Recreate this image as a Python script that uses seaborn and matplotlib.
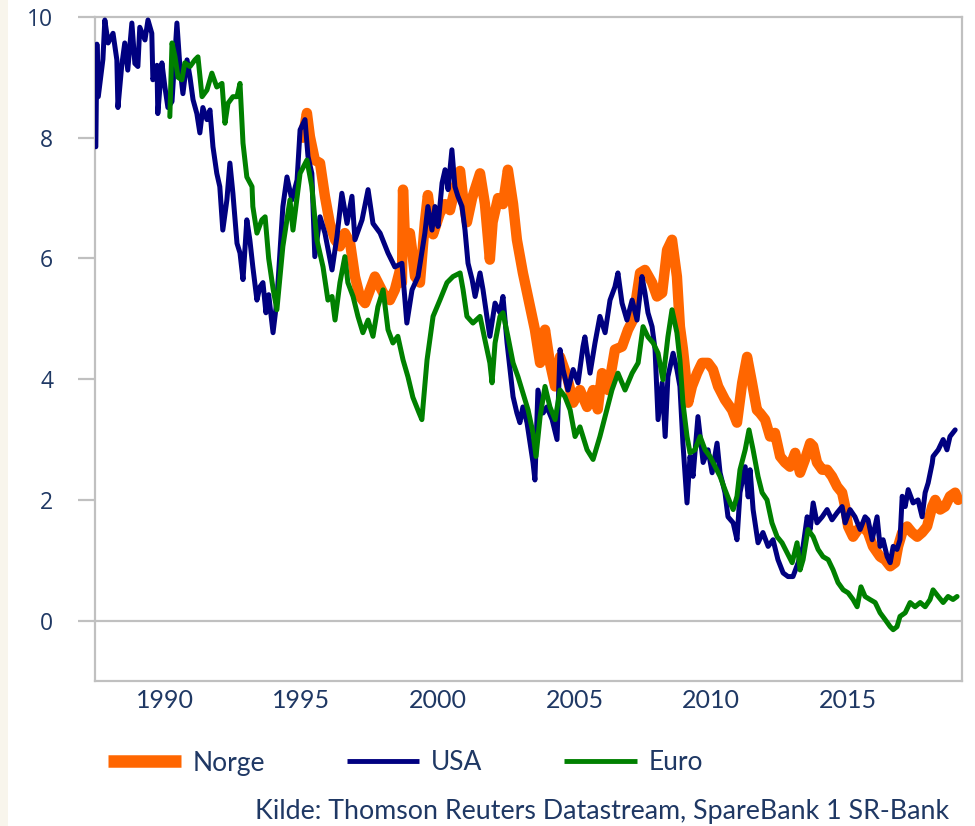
import numpy as np
import pandas as pd
import matplotlib
matplotlib.use("Agg")
import matplotlib.pyplot as plt
import seaborn as sns
from matplotlib.patches import Rectangle

# ---------------- data ----------------
usa_year = [1987.47, 1987.51, 1987.56, 1987.73, 1987.80, 1987.92, 1988.10, 1988.24, 1988.28, 1988.42,
            1988.53, 1988.64, 1988.79, 1988.90, 1989.01, 1989.08, 1989.27, 1989.38, 1989.52, 1989.56,
            1989.71, 1989.74, 1989.89, 1990.00, 1990.11, 1990.26, 1990.44, 1990.55, 1990.66, 1990.81,
            1990.92, 1991.03, 1991.17, 1991.28, 1991.39, 1991.54, 1991.65, 1991.76, 1991.90, 1992.01,
            1992.12, 1992.27, 1992.38, 1992.49, 1992.64, 1992.75, 1992.86, 1993.00, 1993.11, 1993.22,
            1993.37, 1993.48, 1993.59, 1993.70, 1993.80, 1993.96, 1994.10, 1994.32, 1994.47, 1994.65,
            1994.84, 1994.95, 1995.13, 1995.24, 1995.38, 1995.49, 1995.68, 1995.86, 1996.12, 1996.30,
            1996.48, 1996.67, 1996.85, 1996.96, 1997.22, 1997.44, 1997.62, 1997.88, 1998.17, 1998.42,
            1998.68, 1998.86, 1999.05, 1999.27, 1999.52, 1999.63, 1999.78, 1999.89, 2000.00, 2000.15,
            2000.26, 2000.37, 2000.51, 2000.62, 2000.73, 2000.88, 2000.99, 2001.10, 2001.25, 2001.36,
            2001.54, 2001.65, 2001.79, 2001.90, 2002.09, 2002.27, 2002.38, 2002.53, 2002.64, 2002.75,
            2002.89, 2003.00, 2003.11, 2003.26, 2003.37, 2003.48, 2003.55, 2003.66, 2003.85, 2003.99,
            2004.18, 2004.36, 2004.47, 2004.58, 2004.76, 2004.95, 2005.13, 2005.31, 2005.38, 2005.57,
            2005.75, 2005.93, 2006.12, 2006.30, 2006.48, 2006.59, 2006.74, 2006.92, 2007.11, 2007.29,
            2007.47, 2007.58, 2007.69, 2007.84, 2007.95, 2008.06, 2008.21, 2008.32, 2008.42, 2008.61,
            2008.75, 2008.86, 2008.97, 2009.12, 2009.23, 2009.34, 2009.52, 2009.71, 2009.89, 2010.04,
            2010.22, 2010.33, 2010.51, 2010.62, 2010.81, 2010.95, 2011.06, 2011.25, 2011.36, 2011.43,
            2011.54, 2011.72, 2011.90, 2012.09, 2012.27, 2012.45, 2012.64, 2012.82, 2013.00, 2013.19,
            2013.37, 2013.52, 2013.63, 2013.74, 2013.88, 2014.07, 2014.25, 2014.43, 2014.62, 2014.80,
            2014.91, 2015.09, 2015.27, 2015.46, 2015.64, 2015.75, 2015.90, 2016.08, 2016.19, 2016.30,
            2016.45, 2016.56, 2016.67, 2016.81, 2016.92, 2017.00, 2017.11, 2017.22, 2017.40, 2017.58,
            2017.73, 2017.84, 2017.95, 2018.10, 2018.13, 2018.32, 2018.50, 2018.64, 2018.75, 2018.94]
usa_val = [7.85, 9.55, 8.68, 9.30, 9.95, 9.57, 9.73, 9.29, 8.50, 9.20,
           9.57, 9.12, 9.90, 9.23, 9.18, 9.83, 9.62, 9.95, 9.73, 8.96,
           9.20, 8.40, 9.24, 8.84, 8.50, 8.60, 9.90, 9.17, 8.73, 9.29,
           9.00, 8.63, 8.40, 8.08, 8.50, 8.30, 8.46, 7.85, 7.41, 7.19,
           6.47, 6.97, 7.58, 7.08, 6.25, 6.09, 5.65, 6.64, 6.31, 5.86,
           5.31, 5.53, 5.60, 5.10, 5.40, 4.77, 5.30, 6.86, 7.35, 6.97,
           7.30, 8.13, 8.30, 7.69, 7.41, 6.03, 6.69, 6.42, 5.81, 6.36,
           7.08, 6.58, 7.03, 6.31, 6.64, 7.14, 6.58, 6.42, 6.09, 5.86,
           5.92, 4.93, 5.48, 5.70, 6.42, 6.86, 6.47, 6.86, 6.53, 7.25,
           7.47, 7.14, 7.80, 7.19, 7.03, 6.86, 6.47, 5.92, 5.65, 5.37,
           5.76, 5.48, 5.04, 4.71, 5.26, 5.10, 5.37, 4.60, 4.16, 3.71,
           3.44, 3.28, 3.54, 3.28, 2.95, 2.62, 2.33, 3.82, 3.44, 3.54,
           3.33, 3.00, 4.49, 4.16, 3.82, 4.16, 3.94, 4.54, 4.70, 4.10,
           4.60, 5.04, 4.77, 5.31, 5.53, 5.76, 5.26, 4.98, 5.31, 4.98,
           5.70, 5.43, 5.10, 4.87, 4.49, 3.33, 3.94, 3.05, 4.04, 4.43,
           4.16, 3.88, 2.94, 1.95, 2.72, 2.39, 3.38, 2.62, 2.83, 2.45,
           2.94, 2.45, 2.12, 1.72, 1.62, 1.34, 2.12, 2.55, 2.05, 2.50,
           1.84, 1.29, 1.46, 1.23, 1.34, 1.01, 0.79, 0.73, 0.73, 0.96,
           1.23, 1.72, 1.51, 1.95, 1.62, 1.72, 1.84, 1.67, 1.79, 1.89,
           1.62, 1.84, 1.72, 1.51, 1.72, 1.67, 1.34, 1.72, 1.23, 1.34,
           1.06, 0.96, 1.23, 1.18, 1.34, 2.06, 1.89, 2.17, 1.95, 2.00,
           1.72, 2.12, 2.28, 2.61, 2.72, 2.83, 3.00, 2.83, 3.05, 3.16]

norge_year = [1995.05, 1995.20, 1995.31, 1995.49, 1995.68, 1995.86, 1996.04, 1996.23, 1996.41, 1996.59,
              1996.78, 1996.96, 1997.14, 1997.33, 1997.51, 1997.69, 1997.88, 1998.06, 1998.24, 1998.42,
              1998.61, 1998.68, 1998.72, 1998.80, 1998.97, 1999.05, 1999.16, 1999.34, 1999.52, 1999.63,
              1999.82, 2000.07, 2000.26, 2000.44, 2000.62, 2000.81, 2000.92, 2001.06, 2001.25, 2001.54,
              2001.72, 2001.90, 2002.00, 2002.20, 2002.38, 2002.56, 2002.75, 2002.89, 2003.11, 2003.37,
              2003.55, 2003.74, 2003.92, 2004.10, 2004.29, 2004.47, 2004.73, 2004.95, 2005.20, 2005.46,
              2005.68, 2005.85, 2006.01, 2006.23, 2006.48, 2006.74, 2006.96, 2007.14, 2007.40, 2007.58,
              2007.84, 2008.02, 2008.21, 2008.39, 2008.57, 2008.75, 2008.86, 2008.97, 2009.05, 2009.16,
              2009.30, 2009.49, 2009.67, 2009.89, 2010.07, 2010.26, 2010.51, 2010.77, 2010.95, 2011.14,
              2011.32, 2011.50, 2011.68, 2011.79, 2011.98, 2012.16, 2012.34, 2012.53, 2012.71, 2012.89,
              2013.08, 2013.26, 2013.44, 2013.63, 2013.74, 2013.88, 2014.07, 2014.25, 2014.43, 2014.62,
              2014.80, 2014.91, 2015.02, 2015.20, 2015.38, 2015.57, 2015.75, 2015.93, 2016.19, 2016.37,
              2016.56, 2016.74, 2016.85, 2017.00, 2017.18, 2017.36, 2017.55, 2017.73, 2017.91, 2018.10,
              2018.21, 2018.39, 2018.57, 2018.75, 2018.94, 2019.05]
norge_val = [8.00, 8.41, 8.02, 7.63, 7.58, 7.03, 6.58, 6.31, 6.20, 6.42,
             6.26, 5.70, 5.37, 5.26, 5.48, 5.70, 5.53, 5.37, 5.31, 5.48,
             5.81, 5.60, 7.14, 6.20, 6.42, 6.14, 5.70, 5.60, 6.60, 7.05,
             6.40, 6.75, 6.90, 6.80, 7.15, 7.45, 7.00, 6.60, 7.00, 7.41,
             6.90, 5.98, 6.60, 7.00, 6.90, 7.47, 6.90, 6.31, 5.76, 5.20,
             4.82, 4.27, 4.82, 4.27, 3.88, 4.37, 4.04, 3.61, 3.82, 3.54,
             3.82, 3.50, 4.10, 3.82, 4.49, 4.54, 4.82, 4.98, 5.76, 5.81,
             5.60, 5.37, 5.43, 6.14, 6.31, 5.70, 4.87, 4.50, 4.16, 3.61,
             3.88, 4.10, 4.27, 4.27, 4.16, 3.88, 3.66, 3.49, 3.28, 3.94,
             4.37, 3.94, 3.49, 3.44, 3.33, 3.05, 3.11, 2.72, 2.62, 2.55,
             2.78, 2.45, 2.67, 2.94, 2.89, 2.62, 2.50, 2.50, 2.39, 2.22,
             2.12, 1.89, 1.56, 1.39, 1.51, 1.56, 1.46, 1.23, 1.06, 1.01,
             0.90, 0.96, 1.23, 1.46, 1.56, 1.46, 1.39, 1.46, 1.56, 1.89,
             2.00, 1.84, 1.89, 2.06, 2.12, 2.00]

euro_year = [1990.18, 1990.26, 1990.37, 1990.48, 1990.62, 1990.73, 1990.92, 1991.10, 1991.21, 1991.36,
             1991.54, 1991.72, 1991.90, 1992.09, 1992.20, 1992.31, 1992.49, 1992.64, 1992.75, 1992.86,
             1993.00, 1993.19, 1993.22, 1993.37, 1993.55, 1993.67, 1993.80, 1993.96, 1994.10, 1994.32,
             1994.58, 1994.69, 1994.95, 1995.20, 1995.38, 1995.57, 1995.79, 1995.97, 1996.12, 1996.23,
             1996.41, 1996.59, 1996.70, 1996.89, 1997.07, 1997.25, 1997.44, 1997.62, 1997.80, 1997.99,
             1998.17, 1998.35, 1998.53, 1998.72, 1998.90, 1999.08, 1999.30, 1999.41, 1999.60, 1999.82,
             2000.07, 2000.33, 2000.55, 2000.81, 2000.92, 2001.06, 2001.28, 2001.54, 2001.72, 2001.90,
             2001.98, 2002.09, 2002.27, 2002.38, 2002.56, 2002.75, 2002.93, 2003.11, 2003.30, 2003.48,
             2003.59, 2003.74, 2003.92, 2004.10, 2004.29, 2004.47, 2004.65, 2004.84, 2005.02, 2005.20,
             2005.46, 2005.68, 2005.93, 2006.12, 2006.37, 2006.59, 2006.85, 2007.11, 2007.33, 2007.51,
             2007.69, 2007.88, 2008.06, 2008.24, 2008.42, 2008.57, 2008.75, 2008.86, 2008.97, 2009.12,
             2009.23, 2009.41, 2009.60, 2009.78, 2009.96, 2010.15, 2010.33, 2010.51, 2010.70, 2010.81,
             2010.95, 2011.06, 2011.25, 2011.39, 2011.54, 2011.72, 2011.87, 2012.05, 2012.23, 2012.42,
             2012.60, 2012.78, 2012.97, 2013.15, 2013.26, 2013.37, 2013.55, 2013.74, 2013.92, 2014.10,
             2014.29, 2014.47, 2014.65, 2014.84, 2015.02, 2015.20, 2015.35, 2015.49, 2015.64, 2015.82,
             2016.01, 2016.19, 2016.37, 2016.56, 2016.67, 2016.81, 2016.92, 2017.11, 2017.29, 2017.47,
             2017.66, 2017.84, 2018.02, 2018.13, 2018.32, 2018.50, 2018.68, 2018.86, 2019.01]
euro_val = [8.35, 9.57, 9.34, 9.00, 8.96, 9.24, 9.18, 9.29, 9.34, 8.68,
            8.79, 9.07, 8.84, 8.90, 8.24, 8.57, 8.68, 8.68, 8.90, 7.91,
            7.35, 7.19, 6.86, 6.42, 6.64, 6.69, 6.00, 5.50, 5.15, 6.20,
            6.97, 6.47, 7.41, 7.63, 7.19, 6.30, 5.86, 5.31, 5.37, 4.98,
            5.60, 6.03, 5.60, 5.37, 5.04, 4.77, 4.98, 4.71, 5.20, 5.48,
            4.82, 4.60, 4.71, 4.32, 4.04, 3.70, 3.45, 3.33, 4.32, 5.04,
            5.31, 5.60, 5.70, 5.76, 5.48, 5.04, 4.93, 5.04, 4.65, 4.27,
            3.94, 4.60, 5.04, 5.10, 4.71, 4.27, 4.04, 3.77, 3.49, 3.11,
            2.72, 3.38, 3.88, 3.54, 3.33, 3.82, 3.71, 3.49, 3.05, 3.21,
            2.83, 2.67, 3.05, 3.38, 3.82, 4.10, 3.82, 4.10, 4.27, 4.87,
            4.70, 4.60, 4.43, 3.99, 4.70, 5.15, 4.77, 4.32, 3.61, 3.05,
            2.78, 2.83, 3.05, 2.83, 2.72, 2.55, 2.39, 2.17, 1.95, 1.84,
            2.06, 2.50, 2.83, 3.16, 2.83, 2.39, 2.12, 2.00, 1.62, 1.39,
            1.29, 1.13, 0.96, 1.29, 0.84, 1.01, 1.51, 1.39, 1.18, 1.06,
            1.01, 0.84, 0.63, 0.51, 0.46, 0.35, 0.23, 0.56, 0.40, 0.35,
            0.30, 0.13, 0.02, -0.10, -0.15, -0.10, 0.07, 0.13, 0.30, 0.23,
            0.30, 0.23, 0.35, 0.51, 0.40, 0.30, 0.40, 0.35, 0.40]

series_names = ["Norge", "USA", "Euro"]
series_colors = ["#ff6600", "#000080", "#008000"]
x_ticks = [1990, 1995, 2000, 2005, 2010, 2015]
y_ticks = [0, 2, 4, 6, 8, 10]
source_text = "Kilde: Thomson Reuters Datastream, SpareBank 1 SR-Bank"

# ---------------- build frames ----------------
frames = {
    "Norge": pd.DataFrame({"year": norge_year, "value": norge_val}),
    "USA": pd.DataFrame({"year": usa_year, "value": usa_val}),
    "Euro": pd.DataFrame({"year": euro_year, "value": euro_val}),
}
widths = {"Norge": 7.5, "USA": 3.6, "Euro": 3.6}

sns.set_theme(style="white")
text_color = "#1f3864"
grey = "#c0c0c0"

fig = plt.figure(figsize=(9.75, 8.26), dpi=100)
fig.patch.set_facecolor("white")
fig.patches.append(Rectangle((0, 0), 8 / 975, 1, transform=fig.transFigure,
                             facecolor="#f8f5ec", edgecolor="none", zorder=0))
ax = fig.add_axes([95 / 975, 1 - 681 / 826, (962 - 95) / 975, (681 - 17) / 826])

ax.axhline(0, color=grey, lw=1.6, zorder=1)
for name, col in zip(series_names, series_colors):
    sns.lineplot(data=frames[name], x="year", y="value", ax=ax, color=col,
                 linewidth=widths[name], estimator=None, sort=False, label=name,
                 solid_joinstyle="round", solid_capstyle="round", zorder=3)

ax.set_xlim(1987.44, 2019.19)
ax.set_ylim(-1, 10)
ax.set_xlabel("")
ax.set_ylabel("")
ax.set_xticks(x_ticks)
ax.set_xticklabels([str(t) for t in x_ticks])
ax.set_yticks(y_ticks)
ax.set_yticklabels([str(t) for t in y_ticks])

for sp in ax.spines.values():
    sp.set_visible(True)
    sp.set_color(grey)
    sp.set_linewidth(1.6)

ax.tick_params(axis="y", direction="out", length=12, width=1.6, color=grey,
               pad=18, labelsize=16.5, labelcolor=text_color, left=True)
ax.tick_params(axis="x", length=0, pad=6, labelsize=18, labelcolor=text_color)
for lab in ax.get_yticklabels():
    lab.set_fontfamily(["Open Sans", "DejaVu Sans"])
for lab in ax.get_xticklabels():
    lab.set_fontfamily(["Lato", "DejaVu Sans"])

handles, labels = ax.get_legend_handles_labels()
ax.get_legend().remove()
leg = fig.legend(handles, labels, loc="center left",
                 bbox_to_anchor=(108 / 975, 1 - 763 / 826), ncol=3, frameon=False,
                 borderpad=0, borderaxespad=0, handlelength=2.75, handletextpad=0.45,
                 columnspacing=3.1,
                 prop={"family": ["Lato", "DejaVu Sans"], "size": 19})
for t in leg.get_texts():
    t.set_color(text_color)
lw_leg = {"Norge": 9, "USA": 3.5, "Euro": 3.5}
for h, name in zip(leg.legend_handles, labels):
    h.set_linewidth(lw_leg[name])
    h.set_solid_capstyle("butt")

fig.text(255 / 975, 1 - 812 / 826, source_text, ha="left", va="center",
         color=text_color, fontsize=19.3, family=["Lato", "DejaVu Sans"])

fig.savefig("out.png", dpi=100, facecolor="white")
